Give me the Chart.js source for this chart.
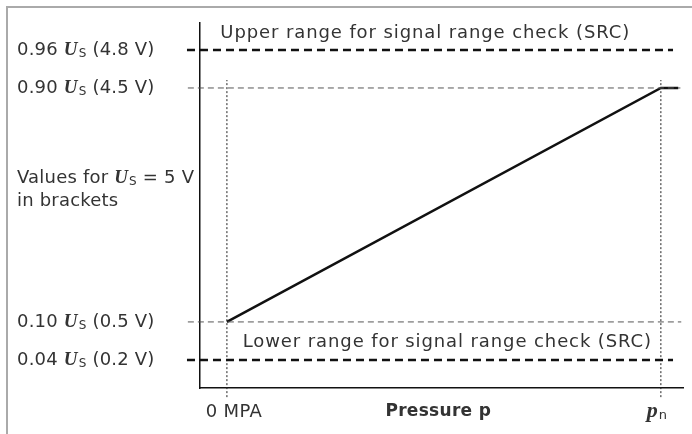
<!DOCTYPE html>
<html>
<head>
<meta charset="utf-8">
<script src="https://cdn.jsdelivr.net/npm/chart.js@4"></script>
<style>
  body { margin: 0; background: #fff; overflow: hidden; }
  canvas { display: block; }
</style>
</head>
<body>
<canvas id="sensor" width="692" height="434"></canvas>
<script>
// signal levels (fraction of U_S) and the values for U_S = 5 V
const levelFractions = ['0.96', '0.90', '0.10', '0.04'];
const levelVolts = ['4.8', '4.5', '0.5', '0.2'];
// schematic heights of those levels (the drawing is not to scale)
const levelHeights = [9.26, 8.22, 1.81, 0.77];

// pressure axis: 0 MPa .. p_n (normalised)
const pressureTicks = [0, 1];
const signalX = [0, 1, 1.04];
const signalY = [levelHeights[2], levelHeights[1], levelHeights[1]];

const TEXT = '#333';
const SANS = '"DejaVu Sans", sans-serif';
const SERIF = '"Liberation Serif", "DejaVu Serif", serif';

function hline(y, x0, x1, width, color, dash) {
	return {
		data: [{ x: x0, y: y }, { x: x1, y: y }],
		showLine: true, borderColor: color, borderWidth: width, borderDash: dash,
		pointRadius: 0, clip: false
	};
}
function vline(x, y0, y1) {
	return {
		data: [{ x: x, y: y0 }, { x: x, y: y1 }],
		showLine: true, borderColor: '#222', borderWidth: 1, borderDash: [2, 2],
		pointRadius: 0, clip: false
	};
}

var datasets = [
	hline(levelHeights[0], -0.092, 1.028, 2.5, '#111', [8, 5]),
	hline(levelHeights[3], -0.092, 1.028, 2.5, '#111', [8, 5]),
	hline(levelHeights[1], -0.090, 1.045, 1, '#555', [6, 4]),
	hline(levelHeights[2], -0.090, 1.047, 1, '#555', [6, 4]),
	vline(pressureTicks[0], -0.25, 8.44),
	vline(pressureTicks[1], -0.25, 8.44),
	{
		data: signalX.map((x, i) => ({ x: x, y: signalY[i] })),
		showLine: true, borderColor: '#111', borderWidth: 2.5,
		pointRadius: 0, clip: false
	}
];

// draws U_S with italic U and subscript S, returns new x
function drawUs(ctx, x, y) {
	ctx.font = 'italic bold 19px ' + SERIF;
	ctx.fillText('U', x, y);
	x += ctx.measureText('U').width + 1;
	ctx.font = '12px ' + SANS;
	ctx.fillText('S', x, y + 4);
	return x + ctx.measureText('S').width;
}

// text run with sans parts and U_S in between
function drawRun(ctx, parts, x, y) {
	parts.forEach(function (p) {
		if (p === 'Us') {
			x = drawUs(ctx, x, y);
		} else {
			ctx.font = '18px ' + SANS;
			ctx.fillText(p, x, y);
			x += ctx.measureText(p).width;
		}
	});
}

const labelsPlugin = {
	id: 'labels',
	beforeDraw(chart) {
		var ctx = chart.ctx;
		ctx.save();
		ctx.strokeStyle = '#aaa';
		ctx.lineWidth = 2;
		ctx.beginPath();
		ctx.moveTo(7, 440);
		ctx.lineTo(7, 7);
		ctx.lineTo(700, 7);
		ctx.stroke();
		ctx.restore();
	},
	afterDraw(chart) {
		var ctx = chart.ctx;
		var xs = chart.scales.x, ys = chart.scales.y;
		ctx.save();
		ctx.fillStyle = TEXT;
		ctx.textBaseline = 'middle';
		ctx.textAlign = 'left';
		ctx.letterSpacing = '0.2px';

		for (var i = 0; i < levelFractions.length; i++) {
			drawRun(ctx, [levelFractions[i] + ' ', 'Us', ' (' + levelVolts[i] + ' V)'], 17, ys.getPixelForValue(levelHeights[i]));
		}
		drawRun(ctx, ['Values for ', 'Us', ' = 5 V'], 17, ys.getPixelForValue(5.75));
		drawRun(ctx, ['in brackets'], 17, ys.getPixelForValue(5.12));

		ctx.textAlign = 'center';
		ctx.letterSpacing = '0.9px';
		ctx.font = '18px ' + SANS;
		ctx.fillText('Upper range for signal range check (SRC)', xs.getPixelForValue(0.457), ys.getPixelForValue(9.73));
		ctx.fillText('Lower range for signal range check (SRC)', xs.getPixelForValue(0.508), ys.getPixelForValue(1.26));

		ctx.letterSpacing = '0.3px';
		var yb = chart.chartArea.bottom + 24;
		ctx.fillText('0 MPA', xs.getPixelForValue(pressureTicks[0]) + 7, yb);
		ctx.font = 'bold 17px ' + SANS;
		ctx.fillText('Pressure p', xs.getPixelForValue(0.487), yb);

		ctx.letterSpacing = '0px';
		var xp = xs.getPixelForValue(pressureTicks[1]) - 14;
		ctx.textAlign = 'left';
		ctx.font = 'italic bold 22px ' + SERIF;
		ctx.fillText('p', xp, yb - 1);
		xp += ctx.measureText('p').width + 1;
		ctx.font = '13px ' + SANS;
		ctx.fillText('n', xp, yb + 4);
		ctx.restore();
	}
};

new Chart(document.getElementById('sensor'), {
	type: 'scatter',
	data: { datasets: datasets },
	options: {
		responsive: false,
		animation: false,
		events: [],
		layout: { padding: { left: 200, right: 9, top: 23, bottom: 46 } },
		plugins: { legend: { display: false }, tooltip: { enabled: false } },
		scales: {
			x: {
				type: 'linear', min: -0.062, max: 1.051,
				grid: { display: false, drawTicks: false },
				ticks: { display: false },
				border: { color: '#111', width: 1.5 }
			},
			y: {
				type: 'linear', min: 0, max: 10,
				grid: { display: false, drawTicks: false },
				ticks: { display: false },
				border: { color: '#111', width: 1.5 }
			}
		}
	},
	plugins: [labelsPlugin]
});
</script>
</body>
</html>
